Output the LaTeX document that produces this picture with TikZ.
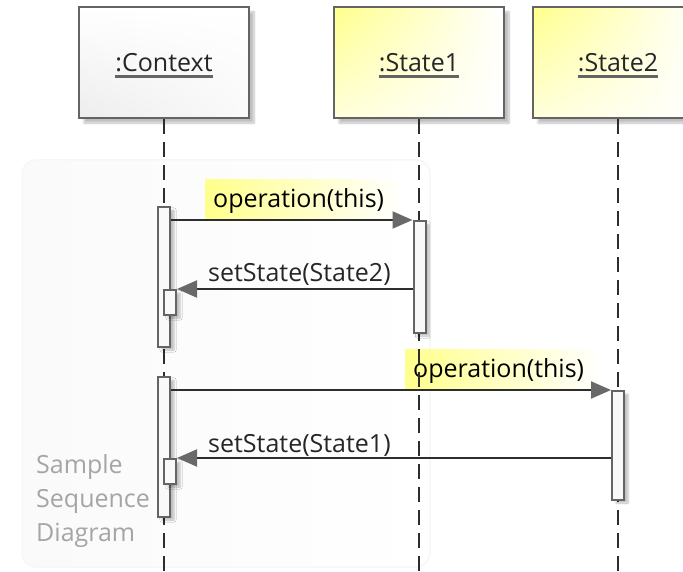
\documentclass[tikz,border=0pt]{standalone}
\usepackage{fontspec}
\setmainfont{Open Sans}
\usepackage{tikz}
\usetikzlibrary{arrows.meta, shadows.blur, shadings}
\definecolor{seqLine}{RGB}{ 45, 45, 45}
\definecolor{seqBorder}{RGB}{100,100,100}
\definecolor{seqTip}{RGB}{105,105,105}
\definecolor{seqYellow}{RGB}{255,255,140}
\definecolor{seqNote}{RGB}{165,165,165}

\begin{document}
\begin{tikzpicture}[x=1pt, y=-1pt,
    font=\fontsize{25}{34}\selectfont,
    head/.style={draw=seqBorder, line width=2.5pt, minimum width=170pt, minimum height=111pt,
      blur shadow={shadow xshift=5pt, shadow yshift=-5pt, shadow opacity=25, shadow blur steps=6}},
    plain/.style={upper left=white, upper right=white, lower left=gray!14, lower right=white!96!gray},
    sunny/.style={upper left=seqYellow, upper right=white, lower left=yellow!14, lower right=white},
    title/.style={inner sep=0pt, text=black!85},
    uline/.style={draw=seqBorder, line width=2.5pt},
    life/.style={draw=seqLine, line width=2.5pt, dash pattern=on 15pt off 8pt},
    bar/.style={draw=seqBorder, line width=2pt, fill=white!95!gray, minimum width=12pt, inner sep=0pt,
      blur shadow={shadow xshift=4pt, shadow yshift=-3pt, shadow opacity=25, shadow blur steps=5}},
    msg/.style={draw=seqLine, line width=2pt, -{Triangle[length=20pt, width=17pt, color=seqTip]}},
    hilite/.style={anchor=south west, left color=seqYellow, right color=white, text width=182pt, align=left,
      inner xsep=8pt, inner ysep=0pt, minimum height=40pt, text height=19pt, text depth=3pt},
    call/.style={anchor=base west, inner sep=0pt, text=black!85},
    note/.style={anchor=west, align=left, inner sep=5pt, text=seqNote}
  ]
  \useasboundingbox (0,0) rectangle (683,572);
  \clip (0,0) rectangle (683,572);

  % frame
  \draw[rounded corners=14pt, draw=gray!6, line width=1.5pt, left color=gray!4, right color=white]
    (22,160) rectangle (430,567);
  \node[note] (sample) at (31,501) {Sample\\Sequence\\Diagram};

  % heads
  \node[head, plain] (ctx) at (164,62.5) {};
  \node[head, sunny] (stA) at (419,62.5) {};
  \node[head, sunny] (stB) at (618,62.5) {};
  \foreach \h/\t in {ctx/{:Context}, stA/{:State1}, stB/{:State2}} {
    \node[title] (\h T) at (\h.center) {\t};
    \draw[uline] ([yshift=-5pt]\h T.base west) -- ([yshift=-5pt]\h T.base east);
  }

  % highlighted calls
  \node[hilite] (opA) at (205,220) {operation(this)};
  \node[hilite] (opB) at (405,390) {operation(this)};

  % lifelines
  \foreach \h in {ctx, stA, stB} {
    \coordinate (\h End) at (\h.south |- 0,572);
    \draw[life] (\h.south) -- (\h End);
  }

  % activations
  \node[bar, minimum height=140pt] (ctxBarA) at (164,277) {};
  \node[bar, minimum height=25pt] (ctxNestA) at (170,302.5) {};
  \node[bar, minimum height=112pt] (stABar) at (419.5,277) {};
  \node[bar, minimum height=140pt] (ctxBarB) at (164,447) {};
  \node[bar, minimum height=25pt] (ctxNestB) at (170,471.5) {};
  \node[bar, minimum height=109pt] (stBBar) at (618,445.5) {};

  % messages
  \draw[msg] (ctxBarA.east |- stABar.north) -- (stABar.north west);
  \draw[msg] (stABar.west |- ctxNestA.north) -- (ctxNestA.north east);
  \draw[msg] (ctxBarB.east |- stBBar.north) -- (stBBar.north west);
  \draw[msg] (stBBar.west |- ctxNestB.north) -- (ctxNestB.north east);
  \node[call] (setA) at (208,281) {setState(State2)};
  \node[call] (setB) at (208,452) {setState(State1)};
\end{tikzpicture}
\end{document}
